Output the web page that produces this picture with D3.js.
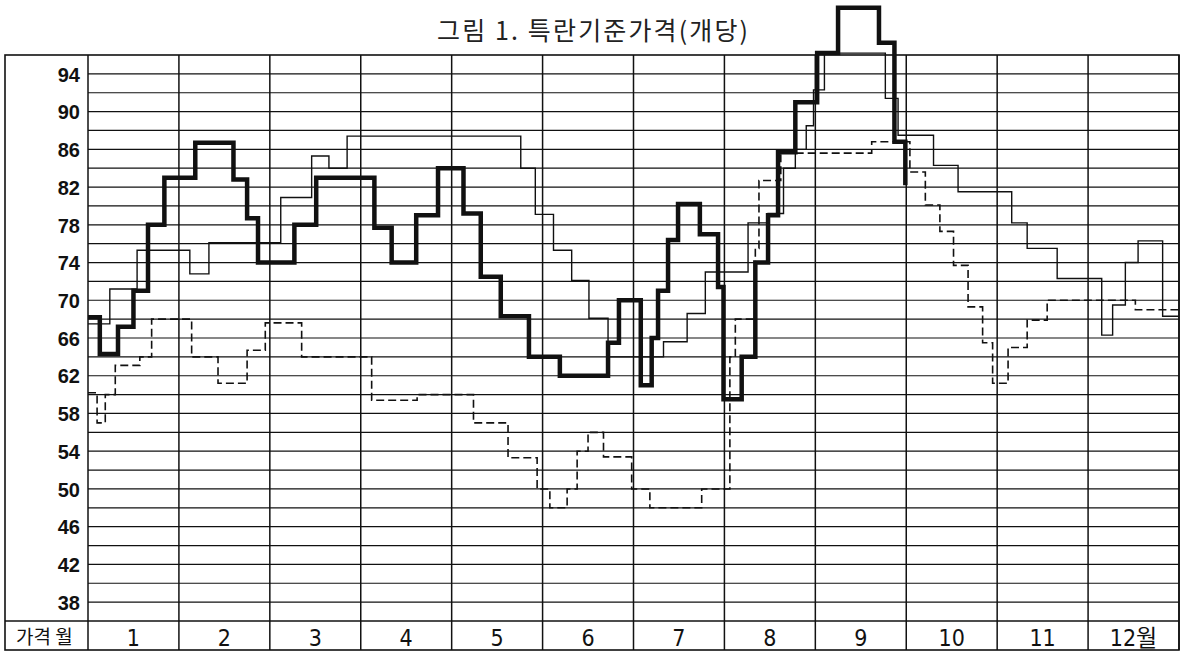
<!DOCTYPE html>
<html>
<head>
<meta charset="utf-8">
<script src="https://cdn.jsdelivr.net/npm/d3@7"></script>
<style>
  body { margin: 0; background: #fff; }
  svg { display: block; }
</style>
</head>
<body>
<svg id="chart"></svg>
<script>
// month labels along the bottom row
const monthLabels = ["1", "2", "3", "4", "5", "6", "7", "8", "9", "10", "11", "12월"];
// labelled y values
const yTickValues = [38, 42, 46, 50, 54, 58, 62, 66, 70, 74, 78, 82, 86, 90, 94];
// horizontal rules every 2 won
const gridValues = d3.range(38, 96, 2);

// bold line: change times (months from 1 Jan) and price after each change
const boldT = [0, 0.13, 0.33, 0.50, 0.66, 0.84, 1.18, 1.60, 1.75, 1.87, 2.27, 2.51, 3.15, 3.34, 3.61, 3.85,
  4.13, 4.32, 4.54, 4.85, 5.19, 5.72, 5.84, 6.08, 6.20, 6.27, 6.38, 6.49, 6.73, 6.93, 6.99,
  7.19, 7.34, 7.48, 7.59, 7.78, 8.02, 8.25, 8.70, 8.87, 8.99];
const boldV = [68.2, 64.3, 67.2, 71, 78, 83, 86.7, 82.8, 78.7, 74, 78, 83, 77.7, 74, 79, 84,
  79.2, 72.5, 68.3, 64, 62, 65.5, 70, 61, 66, 71, 76.4, 80.2, 77, 71.4, 59.5,
  64, 74, 79, 85.7, 91, 96.2, 101, 97.3, 86.8, 82.2];

// thin solid line
const thinT = [0, 0.24, 0.54, 1.12, 1.33, 2.12, 2.46, 2.65, 2.85, 4.76, 4.92, 5.12, 5.32, 5.51, 5.72,
  6.33, 6.59, 6.79, 7.26, 7.48, 7.65, 7.78, 7.90, 7.98, 8.10, 8.77, 8.91, 9.30, 9.57,
  10.16, 10.33, 10.66, 11.15, 11.27, 11.41, 11.55, 11.82, 12];
const thinV = [67.5, 71.2, 75.3, 72.8, 76.1, 80.9, 85.3, 84, 87.4, 84, 79.1, 75.3, 72.1, 68.1, 64,
  65.6, 68.6, 73, 78.2, 79.2, 84, 86, 88.5, 92.3, 96.2, 91.4, 87.5, 84.3, 81.5,
  78.2, 75.5, 72.3, 66.3, 69.5, 74, 76.3, 68.3, 68.3];

// dashed line
const dashT = [0, 0.10, 0.19, 0.30, 0.57, 0.70, 1.14, 1.43, 1.75, 1.95, 2.35, 3.12, 3.62, 4.24, 4.62, 4.94,
  5.08, 5.27, 5.38, 5.50, 5.67, 5.98, 6.18, 6.75, 7.06, 7.12, 7.34, 7.38, 7.62, 8.62,
  9.04, 9.21, 9.37, 9.52, 9.68, 9.84, 9.95, 10.12, 10.33, 10.55, 11.52, 12];
const dashV = [60.2, 57, 60, 63.1, 64, 68, 64, 61.2, 64.7, 67.6, 64, 59.4, 60, 57, 53.3, 50,
  48, 50, 54, 56, 53.4, 50, 48, 50, 64, 68, 75.5, 82.7, 85.6, 86.8,
  83.6, 80.1, 77.3, 73.7, 69.3, 65.5, 61.2, 65, 67.9, 70, 69, 69];

const width = 1185;
const height = 652;
const frame = { left: 5, plotLeft: 88, right: 1179, bottom: 650 };
const ink = "#111";

const svg = d3.select("#chart").attr("width", width).attr("height", height);

const x = d3.scaleLinear().domain([0, 12]).range([frame.plotLeft, frame.right]);
const y = d3.scaleLinear().domain([36, 96]).range([621, 55]);

// title
svg.append("text")
  .attr("x", 437)
  .attr("y", 40)
  .attr("textLength", 311)
  .attr("lengthAdjust", "spacing")
  .style("font-family", "'Noto Sans CJK KR', sans-serif")
  .style("font-size", "25px")
  .style("fill", "#222")
  .text("그림 1.  특란기준가격(개당)");

// horizontal rules
svg.append("g")
  .selectAll("line")
  .data(gridValues)
  .join("line")
  .attr("x1", x(0))
  .attr("x2", x(12))
  .attr("y1", d => y(d))
  .attr("y2", d => y(d))
  .style("stroke", ink)
  .style("stroke-width", 1.2);

// month columns
svg.append("g")
  .selectAll("line")
  .data(d3.range(0, 13))
  .join("line")
  .attr("x1", d => x(d))
  .attr("x2", d => x(d))
  .attr("y1", y(96))
  .attr("y2", frame.bottom)
  .style("stroke", ink)
  .style("stroke-width", 1.5);

// outer frame and label row separator
svg.append("rect")
  .attr("x", frame.left)
  .attr("y", y(96))
  .attr("width", x(12) - frame.left)
  .attr("height", frame.bottom - y(96))
  .style("fill", "none")
  .style("stroke", ink)
  .style("stroke-width", 1.6);

svg.append("line")
  .attr("x1", frame.left)
  .attr("x2", x(12))
  .attr("y1", y(36))
  .attr("y2", y(36))
  .style("stroke", ink)
  .style("stroke-width", 1.6);

// y axis labels
svg.append("g")
  .attr("transform", `translate(${x(0)},0)`)
  .call(d3.axisLeft(y).tickValues(yTickValues).tickSize(0).tickPadding(8))
  .call(g => g.select(".domain").remove())
  .call(g => g.selectAll(".tick text")
    .attr("dy", "0.36em")
    .style("font-family", "'Liberation Sans', Arial, sans-serif")
    .style("font-weight", "bold")
    .style("font-size", "20px")
    .style("fill", ink));

// month labels
svg.append("g")
  .selectAll("text")
  .data(monthLabels)
  .join("text")
  .attr("x", (d, i) => x(i + 0.5))
  .attr("y", 646)
  .attr("text-anchor", "middle")
  .style("font-family", "'Liberation Sans Narrow', 'DejaVu Sans Condensed', 'Liberation Sans', 'Noto Sans CJK KR', sans-serif")
  .style("font-size", "23px")
  .style("fill", ink)
  .text(d => d);

svg.append("text")
  .attr("x", 16)
  .attr("y", 644)
  .style("font-family", "'Noto Sans CJK KR', sans-serif")
  .style("font-size", "19px")
  .style("fill", ink)
  .text("가격 월");

// step series
const step = d3.line()
  .x(d => x(d[0]))
  .y(d => y(d[1]))
  .curve(d3.curveStepAfter);

const series = [
  { t: dashT, v: dashV, w: 1.6, dash: "8,4" },
  { t: thinT, v: thinV, w: 1.4, dash: null },
  { t: boldT, v: boldV, w: 4.5, dash: null }
];

svg.append("g")
  .selectAll("path")
  .data(series)
  .join("path")
  .attr("d", s => step(s.t.map((t, i) => [t, s.v[i]])))
  .style("fill", "none")
  .style("stroke", ink)
  .style("stroke-width", s => s.w)
  .style("stroke-dasharray", s => s.dash)
  .style("stroke-linejoin", "miter");
</script>
</body>
</html>
